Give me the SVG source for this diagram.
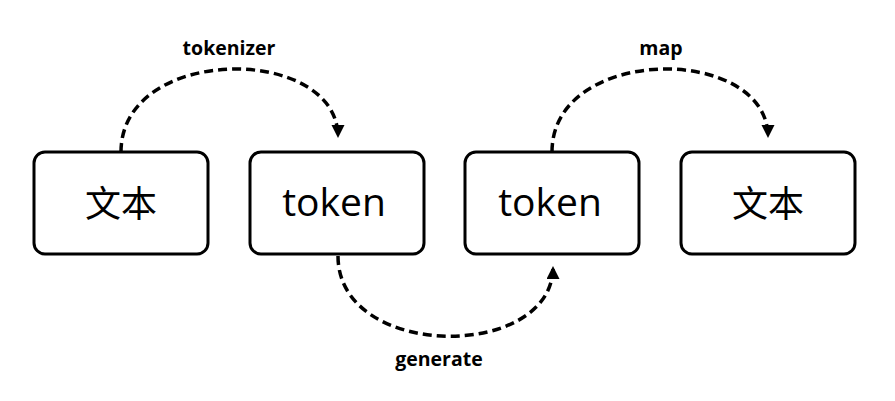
<svg xmlns="http://www.w3.org/2000/svg" width="895" height="401" viewBox="0 0 895 401">
<style>
.box{fill:#fff;stroke:#000;stroke-width:3}
.big{font-family:"Open Sans","Noto Sans","Noto Sans CJK SC",sans-serif;font-size:39px;fill:#000;text-anchor:middle}
.cjk{font-family:"Noto Sans CJK SC",sans-serif;font-size:36px;fill:#000;text-anchor:middle}
.lbl{font-family:"Open Sans","Noto Sans",sans-serif;font-weight:bold;font-size:19.5px;fill:#000;text-anchor:middle}
.arc{fill:none;stroke:#000;stroke-width:3.5;stroke-dasharray:9 5}
</style>
<defs>
<marker id="ah" markerUnits="userSpaceOnUse" markerWidth="14" markerHeight="14" refX="12" refY="6.5" orient="auto">
<path d="M0,0 L13,6.5 L0,13 Z" fill="#000"/>
</marker>
</defs>
<g id="connectors">
<path class="arc" d="M121,152 C121,44 338,44 338,137" marker-end="url(#ah)"/>
<path class="arc" d="M338,256 C338,361 553,361 553,267" marker-end="url(#ah)"/>
<path class="arc" d="M552,152 C552,44 768,44 768,137" marker-end="url(#ah)"/>
<text class="lbl" x="229" y="55">tokenizer</text>
<text class="lbl" x="661" y="55">map</text>
<text class="lbl" x="439" y="366">generate</text>
</g>
<g id="n1"><rect class="box" x="34" y="152" width="174" height="102" rx="11"/><text class="cjk" x="121" y="217">文本</text></g>
<g id="n2"><rect class="box" x="250" y="152" width="174" height="102" rx="11"/><text class="big" x="334" y="216">token</text></g>
<g id="n3"><rect class="box" x="465" y="152" width="174" height="102" rx="11"/><text class="big" x="550" y="216">token</text></g>
<g id="n4"><rect class="box" x="681" y="152" width="174" height="102" rx="11"/><text class="cjk" x="768" y="217">文本</text></g>
</svg>
